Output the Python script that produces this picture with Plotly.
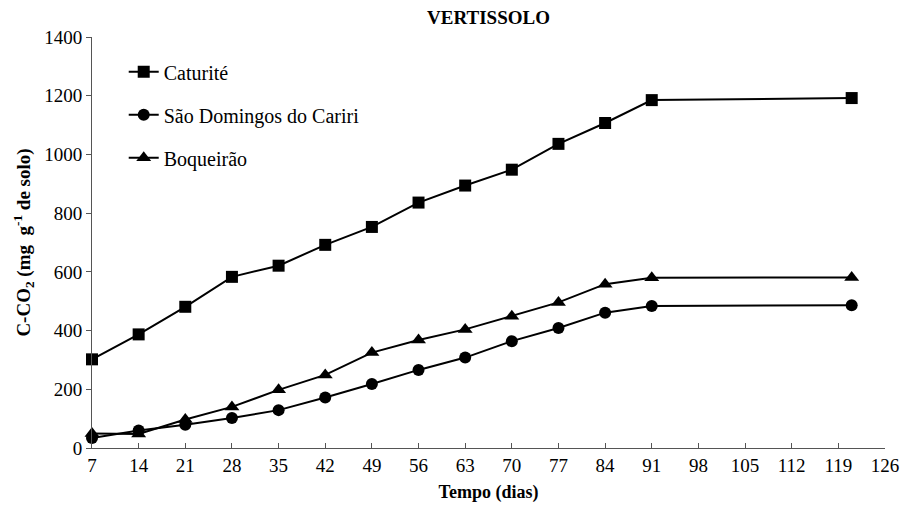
import plotly.graph_objects as go

# incubation time (days)
dias = [7, 14, 21, 28, 35, 42, 49, 56, 63, 70, 77, 84, 91, 121]

caturite = [302, 387, 481, 583, 621, 692, 753, 836, 894, 948, 1036, 1107, 1185, 1192]
sao_domingos = [34, 60, 79, 102, 129, 172, 218, 266, 308, 364, 409, 461, 484, 486]
boqueirao = [49, 48, 97, 140, 198, 249, 325, 368, 404, 449, 496, 558, 580, 581]

x_ticks = list(range(7, 127, 7))
y_ticks = list(range(0, 1401, 200))

FONT = "Liberation Serif, Times New Roman, serif"

series = [
    ("Caturité", caturite, "square", 12),
    ("São Domingos do Cariri", sao_domingos, "circle", 12),
    ("Boqueirão", boqueirao, "triangle-up", 13),
]

fig = go.Figure()

for i, (name, vals, symbol, size) in enumerate(series):
    fig.add_trace(go.Scatter(
        x=dias,
        y=vals,
        mode='lines+markers',
        name=name,
        legendgroup=str(i),
        line=dict(color='black', width=2),
        marker=dict(symbol=symbol, size=size, color='black'),
        cliponaxis=False
    ))

fig.update_layout(
    width=901,
    height=509,
    margin=dict(l=92, r=16, t=37, b=61, autoexpand=False),
    paper_bgcolor='white',
    plot_bgcolor='white',
    font=dict(family=FONT, size=19, color='black'),
    title=dict(
        text="<b>VERTISSOLO</b>",
        x=0.5, xref='paper', xanchor='center',
        y=0.965, yanchor='middle',
        font=dict(family=FONT, size=19, color='black')
    ),
    showlegend=True,
    legend=dict(
        x=0.04, y=0.963, xanchor='left', yanchor='top',
        bgcolor='rgba(0,0,0,0)',
        font=dict(family=FONT, size=20, color='black'),
        itemwidth=30,
        tracegroupgap=14
    ),
    xaxis=dict(
        range=[7, 126],
        tickmode='array',
        tickvals=x_ticks,
        ticks='inside',
        ticklen=5,
        tickcolor='#555',
        showline=True,
        linecolor='#555',
        linewidth=1,
        showgrid=False,
        zeroline=False,
        automargin=False,
        tickfont=dict(family=FONT, size=19, color='black'),
        title=dict(text="<b>Tempo (dias)</b>", font=dict(family=FONT, size=18), standoff=10)
    ),
    yaxis=dict(
        range=[0, 1400],
        tickmode='array',
        tickvals=y_ticks,
        ticks='outside',
        ticklen=5,
        tickcolor='#555',
        showline=True,
        linecolor='#555',
        linewidth=1,
        showgrid=False,
        zeroline=False,
        automargin=False,
        tickfont=dict(family=FONT, size=19, color='black'),
        title=dict(text="<b>C-CO<sub>2</sub> (mg  g<sup>-1</sup> de solo)</b>",
                   font=dict(family=FONT, size=19), standoff=8)
    )
)

# drop the page's default body margin so the figure sits at the window origin
fig.write_html("out.html", config={'displayModeBar': False},
               post_script="document.body.style.margin='0';")
